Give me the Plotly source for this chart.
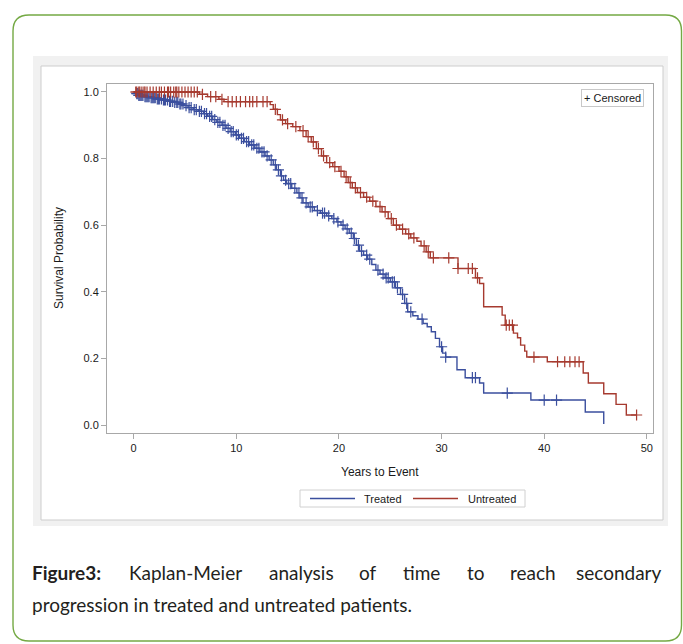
import numpy as np
import plotly.graph_objects as go

# ---------------- data ----------------
treated_time = [0.0, 0.2, 0.5, 1.0, 1.6, 2.2, 2.8, 3.4, 3.9, 4.4, 4.9, 5.3, 5.8, 6.3, 6.8,
                7.2, 7.7, 8.1, 8.6, 9.0, 9.4, 9.9, 10.3, 10.8, 11.3, 11.8, 12.3, 12.8,
                13.2, 13.6, 13.9, 14.3, 14.6, 14.9, 15.4, 15.9, 16.2, 16.5, 17.0, 17.6,
                18.2, 18.8, 19.3, 19.8, 20.2, 20.6, 21.0, 21.4, 21.7, 22.0, 22.4, 22.8,
                23.2, 23.6, 24.0, 24.5, 25.0, 25.5, 26.0, 26.4, 26.7, 27.2, 27.7, 28.2,
                28.6, 29.0, 29.4, 29.8, 30.1, 30.4, 31.5, 32.3, 33.7, 34.1, 38.7, 44.0, 45.8]
treated_surv = [1.0, 0.995, 0.990, 0.986, 0.983, 0.979, 0.976, 0.972, 0.969, 0.964, 0.959,
                0.953, 0.947, 0.942, 0.935, 0.927, 0.917, 0.909, 0.900, 0.891, 0.881, 0.871,
                0.861, 0.851, 0.841, 0.831, 0.820, 0.808, 0.796, 0.781, 0.766, 0.748, 0.735,
                0.725, 0.711, 0.697, 0.682, 0.667, 0.655, 0.644, 0.636, 0.628, 0.620, 0.610,
                0.600, 0.589, 0.576, 0.560, 0.540, 0.522, 0.510, 0.498, 0.482, 0.465, 0.453,
                0.442, 0.430, 0.412, 0.392, 0.365, 0.340, 0.328, 0.318, 0.305, 0.295, 0.280,
                0.260, 0.235, 0.216, 0.204, 0.166, 0.142, 0.126, 0.096, 0.075, 0.039, 0.003]
treated_censor = [0.3, 0.4, 0.5, 0.6, 0.7, 0.8, 0.9, 1.1, 1.2, 1.3, 1.4, 1.5, 1.7, 1.8, 1.9,
                  2.0, 2.1, 2.3, 2.4, 2.5, 2.7, 2.9, 3.0, 3.1, 3.3, 3.5, 3.6, 3.8, 4.0, 4.2,
                  4.3, 4.5, 4.6, 4.8, 5.1, 5.4, 5.6, 5.9, 6.1, 6.4, 6.6,
                  6.9, 7.1, 7.4, 7.6, 7.9, 8.2, 8.4, 8.7, 8.9, 9.2, 9.5, 9.7, 10.0, 10.2,
                  10.5, 10.7, 11.0, 11.2, 11.5, 11.7, 12.0, 12.2, 12.5, 12.7, 13.0, 13.4,
                  13.8, 14.1, 14.4, 14.8, 15.1, 15.3, 15.7, 16.1, 16.4, 16.8, 17.2, 17.4,
                  17.9, 18.4, 18.6, 19.0, 19.5, 19.9, 20.4, 20.8, 21.2, 21.5, 21.9, 22.2,
                  22.7, 23.0, 23.8, 24.3, 24.6, 24.8, 25.2, 25.4, 25.7, 26.2, 26.6, 27.0,
                  28.1, 30.0, 30.4, 33.0, 33.3, 36.4, 40.0, 41.2]

untreated_time = [0.0, 6.4, 7.2, 8.3, 8.8, 13.3, 13.6, 14.0, 14.3, 14.8, 15.5, 16.2, 16.8,
                  17.3, 17.8, 18.3, 18.8, 19.4, 20.0, 20.5, 20.9, 21.3, 21.8, 22.4, 23.0,
                  23.6, 24.2, 24.8, 25.3, 25.9, 26.5, 27.0, 27.6, 28.0, 28.5, 28.9, 31.6,
                  33.3, 33.7, 34.1, 35.9, 36.2, 37.0, 37.4, 37.7, 38.1, 38.3, 40.3, 43.8,
                  44.3, 45.8, 47.0, 48.0, 49.0]
untreated_surv = [1.0, 0.993, 0.986, 0.978, 0.971, 0.962, 0.948, 0.932, 0.916, 0.905, 0.896,
                  0.884, 0.866, 0.850, 0.830, 0.808, 0.788, 0.776, 0.762, 0.745, 0.728, 0.712,
                  0.698, 0.684, 0.672, 0.656, 0.640, 0.620, 0.600, 0.588, 0.574, 0.562, 0.552,
                  0.538, 0.520, 0.502, 0.470, 0.442, 0.425, 0.355, 0.330, 0.300, 0.276, 0.262,
                  0.240, 0.222, 0.204, 0.190, 0.156, 0.126, 0.094, 0.062, 0.030, 0.030]
untreated_censor = [0.2, 0.3, 0.5, 0.6, 0.8, 1.0, 1.1, 1.3, 1.6, 1.9, 2.2, 2.5, 2.7, 3.0,
                    3.3, 3.4, 3.6, 3.9, 4.1, 4.2, 4.4, 4.7, 5.0, 5.3, 5.6, 5.9, 6.2, 6.7,
                    7.5, 8.0, 8.6, 9.2, 9.6, 10.0,
                    10.4, 10.9, 11.3, 11.6, 12.0, 12.6, 13.0, 13.8, 14.5, 15.0, 15.8, 16.5,
                    17.0, 17.5, 18.0, 18.5, 19.1, 19.6, 20.2, 20.7, 21.1, 21.6, 22.1, 22.7,
                    23.3, 24.0, 24.5, 25.1, 25.6, 26.2, 26.8, 27.3, 28.3, 28.7, 29.2, 30.7,
                    31.6, 32.6, 33.0, 33.5, 36.3, 36.6, 36.9, 39.0, 41.3, 42.0, 42.5, 43.0,
                    43.4, 49.0]

series_names = ["Treated", "Untreated"]
x_ticks = [0, 10, 20, 30, 40, 50]
y_ticks = [0.0, 0.2, 0.4, 0.6, 0.8, 1.0]
y_tick_labels = ["0.0", "0.2", "0.4", "0.6", "0.8", "1.0"]

caption_line1 = ["Figure3:", "Kaplan-Meier", "analysis", "of", "time", "to", "reach", "secondary"]
caption_line2 = "progression in treated and untreated patients."

# ---------------- styling ----------------
BLUE = "#3b4f9e"
RED = "#a63a2f"
GREEN = "#74a944"
W, H = 683, 644
PL, PR, PT, PB = 107, 653, 84, 433   # plot area in pixels


def fx(p):
    return (p - PL) / (PR - PL)


def fy(p):
    return (PB - p) / (PB - PT)


def step_value(times, surv, t):
    idx = np.searchsorted(np.array(times), np.array(t), side="right") - 1
    return np.array(surv)[idx]


fig = go.Figure()
for name, tt, ss, cc, col in [
    (series_names[0], treated_time, treated_surv, treated_censor, BLUE),
    (series_names[1], untreated_time, untreated_surv, untreated_censor, RED),
]:
    fig.add_trace(go.Scatter(x=tt, y=ss, mode="lines", name=name,
                             line=dict(shape="hv", color=col, width=1.4),
                             showlegend=False, hoverinfo="skip"))
    fig.add_trace(go.Scatter(x=cc, y=step_value(tt, ss, cc), mode="markers",
                             name=name + " censored", showlegend=False,
                             marker=dict(symbol="cross-thin", size=8, color=col,
                                         line=dict(width=1.2, color=col)),
                             hoverinfo="skip"))

shapes = []
# green rounded outer frame
x0, x1, y0, y1, r = fx(13), fx(681.5), fy(15), fy(641), 16
rx, ry = r / (PR - PL), r / (PB - PT)
path = (f"M {x0+rx},{y0} L {x1-rx},{y0} Q {x1},{y0} {x1},{y0-ry} "
        f"L {x1},{y1+ry} Q {x1},{y1} {x1-rx},{y1} L {x0+rx},{y1} "
        f"Q {x0},{y1} {x0},{y1+ry} L {x0},{y0-ry} Q {x0},{y0} {x0+rx},{y0} Z")
shapes.append(dict(type="path", xref="paper", yref="paper", path=path,
                   line=dict(color=GREEN, width=1.4), fillcolor="white", layer="below"))
# light shadow box and panel
shapes.append(dict(type="rect", xref="paper", yref="paper", x0=fx(33), x1=fx(668),
                   y0=fy(56), y1=fy(526), line=dict(width=0), fillcolor="#f1f1f1", layer="below"))
shapes.append(dict(type="rect", xref="paper", yref="paper", x0=fx(41), x1=fx(663),
                   y0=fy(66), y1=fy(520), line=dict(color="#cdcdcd", width=1),
                   fillcolor="white", layer="below"))
# bottom legend box + samples
LEG_Y = 498.5
shapes.append(dict(type="rect", xref="paper", yref="paper", x0=fx(300), x1=fx(525),
                   y0=fy(490), y1=fy(507), line=dict(color="#d0d0d0", width=1),
                   fillcolor="white", layer="below"))
shapes.append(dict(type="line", xref="paper", yref="paper", x0=fx(310), x1=fx(355),
                   y0=fy(LEG_Y), y1=fy(LEG_Y), line=dict(color=BLUE, width=1.3)))
shapes.append(dict(type="line", xref="paper", yref="paper", x0=fx(413), x1=fx(458),
                   y0=fy(LEG_Y), y1=fy(LEG_Y), line=dict(color=RED, width=1.3)))

AX_FONT = "Liberation Sans, Arial, sans-serif"
ann = []


def add_text(text, xp, yp, size, xanchor="center", family=AX_FONT, **kw):
    ann.append(dict(text=text, x=fx(xp), y=fy(yp), xref="paper", yref="paper",
                    xanchor=xanchor, yanchor="middle", showarrow=False,
                    font=dict(family=family, size=size, color=kw.pop("color", "#1a1a1a")), **kw))


add_text("Years to Event", 380, 472, 12)
add_text("Survival Probability", 59, 258, 12, textangle=-90)
add_text("+ Censored", 612, 97.5, 11, bgcolor="white", bordercolor="#c8c8c8",
         borderwidth=1, borderpad=2)
add_text(series_names[0], 362, LEG_Y, 11, xanchor="left")
add_text(series_names[1], 466, LEG_Y, 11, xanchor="left")

CAP_FONT = "Lato, Open Sans, sans-serif"
CAP_SIZE = 19
word_left = [30, 127, 267, 357, 401, 465, 508, 580]
for i, (wd, xl) in enumerate(zip(caption_line1, word_left)):
    txt = f"<b>{wd}</b>" if i == 0 else wd
    if i == len(caption_line1) - 1:
        add_text(txt, 664, 572, CAP_SIZE, xanchor="right", family=CAP_FONT, color="#231f20")
    else:
        add_text(txt, xl, 572, CAP_SIZE, xanchor="left", family=CAP_FONT, color="#231f20")
add_text(caption_line2, 30, 604, CAP_SIZE, xanchor="left", family=CAP_FONT, color="#231f20")

axis_common = dict(showline=True, mirror=True, linecolor="#a8a8a8", linewidth=1,
                   showgrid=False, zeroline=False, ticks="outside", ticklen=5,
                   tickcolor="#a8a8a8", tickfont=dict(family=AX_FONT, size=11, color="#1a1a1a"))
fig.update_layout(
    width=W, height=H, autosize=False,
    margin=dict(l=PL, r=W - PR, t=PT, b=H - PB, pad=0),
    paper_bgcolor="white", plot_bgcolor="white",
    shapes=shapes, annotations=ann, showlegend=False,
    xaxis=dict(range=[-2.6, 50.6], tickvals=x_ticks, **axis_common),
    yaxis=dict(range=[-0.024, 1.024], tickvals=y_ticks, ticktext=y_tick_labels, **axis_common),
)
fig.write_html("out.html", config={"displayModeBar": False},
               post_script="document.body.style.margin='0';document.body.style.padding='0';"
                           "document.body.style.overflow='hidden';")
